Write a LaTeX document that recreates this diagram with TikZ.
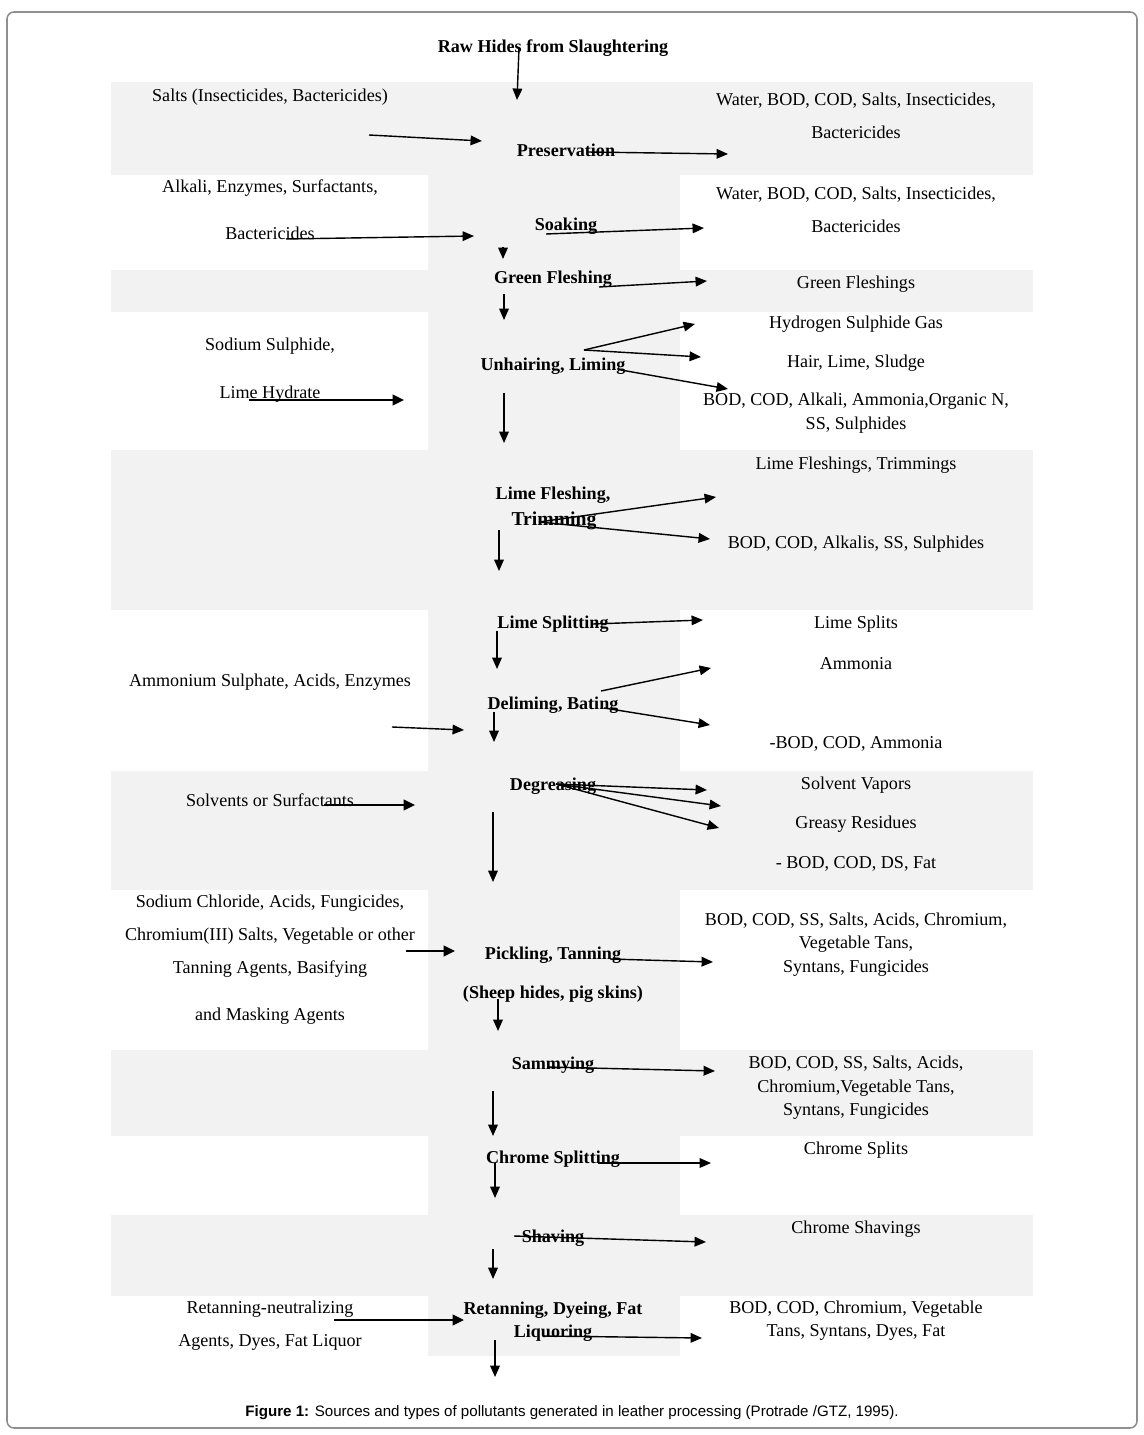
\documentclass[tikz,border=0pt]{standalone}
\usepackage{fontspec}
\setmainfont{Liberation Serif}
\newfontfamily\capfont{Liberation Sans}
\usetikzlibrary{arrows.meta}
\definecolor{band}{HTML}{F2F2F2}
\definecolor{framec}{HTML}{8F8F8F}
\tikzset{
  srctext/.style={font=\fontsize{10.3}{12}\selectfont, anchor=base, inner sep=0pt},
  steptext/.style={srctext, font=\fontsize{10.3}{12}\selectfont\bfseries},
  arr/.style={line width=0.8pt, -{Triangle[length=6.5pt,width=5.5pt]}},
  tarr/.style={line width=1.5pt, -{Triangle[length=6.5pt,width=6pt]}},
}
\newcommand\Tx[5]{\node[#1] (#2) at (#3,#4+7) {#5};}
\newcommand\Fl[4]{\coordinate (#1a) at (#2); \coordinate (#1b) at (#3); \draw[#4] (#1a) -- (#1b);}
\begin{document}
\begin{tikzpicture}[x=0.02cm,y=-0.02cm]
\useasboundingbox (0,0) rectangle (1143,1435);
% background bands
\fill[band] (428,82) rectangle (680,1356);
\foreach \a/\b in {82/175,270/312,450/610,771/890,1050/1136,1215/1296}
  \fill[band] (111,\a) rectangle (1033,\b);
% frame
\draw[framec, line width=0.9pt, rounded corners=4pt] (7,12) rectangle (1137,1428);

% top
\Tx{steptext}{raw}{553}{46}{Raw Hides from Slaughtering}

% left column
\Tx{srctext}{l1}{270}{95}{Salts (Insecticides, Bactericides)}
\Tx{srctext}{l2}{270}{186}{Alkali, Enzymes, Surfactants,}
\Tx{srctext}{l3}{270}{233}{Bactericides}
\Tx{srctext}{l4}{270}{344}{Sodium Sulphide,}
\Tx{srctext}{l5}{270}{392}{Lime Hydrate}
\Tx{srctext}{l6}{270}{679}{Ammonium Sulphate, Acids, Enzymes}
\Tx{srctext}{l7}{270}{799}{Solvents or Surfactants}
\Tx{srctext}{l8}{270}{900}{Sodium Chloride, Acids, Fungicides,}
\Tx{srctext}{l9}{270}{933}{Chromium(III) Salts, Vegetable or other}
\Tx{srctext}{l10}{270}{966}{Tanning Agents, Basifying}
\Tx{srctext}{l11}{270}{1013}{and Masking Agents}
\Tx{srctext}{l12}{270}{1306}{Retanning-neutralizing}
\Tx{srctext}{l13}{270}{1339}{Agents, Dyes, Fat Liquor}

% middle column
\Tx{steptext}{m1}{566}{150}{Preservation}
\Tx{steptext}{m2}{566}{224}{Soaking}
\Tx{steptext}{m3}{553}{277}{Green Fleshing}
\Tx{steptext}{m4}{553}{364}{Unhairing, Liming}
\Tx{steptext}{m5}{553}{493}{Lime Fleshing,}
\Tx{steptext, font=\fontsize{11.2}{13}\selectfont\bfseries}{m5b}{554}{518}{Trimming}
\Tx{steptext}{m6}{553}{621}{Lime Splitting}
\Tx{steptext}{m7}{553}{702}{Deliming, Bating}
\Tx{steptext}{m8}{553}{783}{Degreasing}
\Tx{steptext}{m9}{553}{952}{Pickling, Tanning}
\Tx{steptext}{m9b}{553}{991}{(Sheep hides, pig skins)}
\Tx{steptext}{m10}{553}{1062}{Sammying}
\Tx{steptext}{m11}{553}{1156}{Chrome Splitting}
\Tx{steptext}{m12}{553}{1235}{Shaving}
\Tx{steptext}{m13}{553}{1307}{Retanning, Dyeing, Fat}
\Tx{steptext}{m13b}{553}{1330}{Liquoring}

% right column
\Tx{srctext}{r1}{856}{99}{Water, BOD, COD, Salts, Insecticides,}
\Tx{srctext}{r2}{856}{132}{Bactericides}
\Tx{srctext}{r3}{856}{193}{Water, BOD, COD, Salts, Insecticides,}
\Tx{srctext}{r4}{856}{226}{Bactericides}
\Tx{srctext}{r5}{856}{282}{Green Fleshings}
\Tx{srctext}{r6}{856}{322}{Hydrogen Sulphide Gas}
\Tx{srctext}{r7}{856}{361}{Hair, Lime, Sludge}
\Tx{srctext}{r8}{856}{399}{BOD, COD, Alkali, Ammonia,Organic N,}
\Tx{srctext}{r9}{856}{423}{SS, Sulphides}
\Tx{srctext}{r10}{856}{462}{Lime Fleshings, Trimmings}
\Tx{srctext}{r11}{856}{541}{BOD, COD, Alkalis, SS, Sulphides}
\Tx{srctext}{r12}{856}{621}{Lime Splits}
\Tx{srctext}{r13}{856}{662}{Ammonia}
\Tx{srctext}{r14}{856}{741}{-BOD, COD, Ammonia}
\Tx{srctext}{r15}{856}{782}{Solvent Vapors}
\Tx{srctext}{r16}{856}{821}{Greasy Residues}
\Tx{srctext}{r17}{856}{861}{- BOD, COD, DS, Fat}
\Tx{srctext}{r18}{856}{918}{BOD, COD, SS, Salts, Acids, Chromium,}
\Tx{srctext}{r19}{856}{941}{Vegetable Tans,}
\Tx{srctext}{r20}{856}{965}{Syntans, Fungicides}
\Tx{srctext}{r21}{856}{1061}{BOD, COD, SS, Salts, Acids,}
\Tx{srctext}{r22}{856}{1085}{Chromium,Vegetable Tans,}
\Tx{srctext}{r23}{856}{1108}{Syntans, Fungicides}
\Tx{srctext}{r24}{856}{1147}{Chrome Splits}
\Tx{srctext}{r25}{856}{1226}{Chrome Shavings}
\Tx{srctext}{r26}{856}{1306}{BOD, COD, Chromium, Vegetable}
\Tx{srctext}{r27}{856}{1329}{Tans, Syntans, Dyes, Fat}

% caption
\node[font=\capfont\fontsize{8.6}{10}\selectfont, anchor=base, inner sep=0pt] (cap) at (572,1416)
  {\textbf{Figure 1:} Sources and types of pollutants generated in leather processing (Protrade /GTZ, 1995).};

% arrows
\Fl{a1}{519,48}{517,100}{arr}
\Fl{a2}{369,135}{482,141}{arr}
\Fl{a3}{587,152}{728,154}{arr}
\Fl{a4}{286,239}{474,236}{arr}
\Fl{a5}{546,234}{704,228}{arr}
\Fl{a6}{503,247}{503,259}{arr}
\Fl{a7}{599,287}{707,281}{arr}
\Fl{a8}{504,294}{504,320}{arr}
\Fl{a9}{584,350}{695,324}{arr}
\Fl{a10}{584,350}{701,357}{arr}
\Fl{a11}{621,370}{728,389}{arr}
\Fl{a12}{249,400}{404,400}{tarr}
\Fl{a13}{504,393}{504,443}{arr}
\Fl{a14}{539,522}{716,497}{arr}
\Fl{a15}{539,522}{710,539}{arr}
\Fl{a16}{499,530}{499,571}{arr}
\Fl{a17}{593,624}{703,620}{arr}
\Fl{a18}{497,631}{497,669}{arr}
\Fl{a19}{601,691}{711,668}{arr}
\Fl{a20}{604,708}{710,725}{arr}
\Fl{a21}{392,727}{464,730}{arr}
\Fl{a22}{494,712}{494,742}{arr}
\Fl{a23}{556,784}{707,790}{arr}
\Fl{a24}{556,784}{721,806}{arr}
\Fl{a25}{556,784}{719,828}{arr}
\Fl{a26}{324,805}{415,805}{tarr}
\Fl{a27}{493,812}{493,882}{arr}
\Fl{a28}{406,951}{455,951}{tarr}
\Fl{a29}{610,959}{713,962}{arr}
\Fl{a30}{498,999}{498,1031}{arr}
\Fl{a31}{547,1067}{715,1071}{arr}
\Fl{a32}{493,1091}{493,1136}{arr}
\Fl{a33}{598,1163}{711,1163}{arr}
\Fl{a34}{495,1163}{495,1198}{arr}
\Fl{a35}{514,1236}{706,1242}{arr}
\Fl{a36}{493,1249}{493,1279}{arr}
\Fl{a37}{334,1320}{464,1320}{tarr}
\Fl{a38}{544,1336}{702,1338}{arr}
\Fl{a39}{495,1340}{495,1377}{arr}
\end{tikzpicture}
\end{document}
